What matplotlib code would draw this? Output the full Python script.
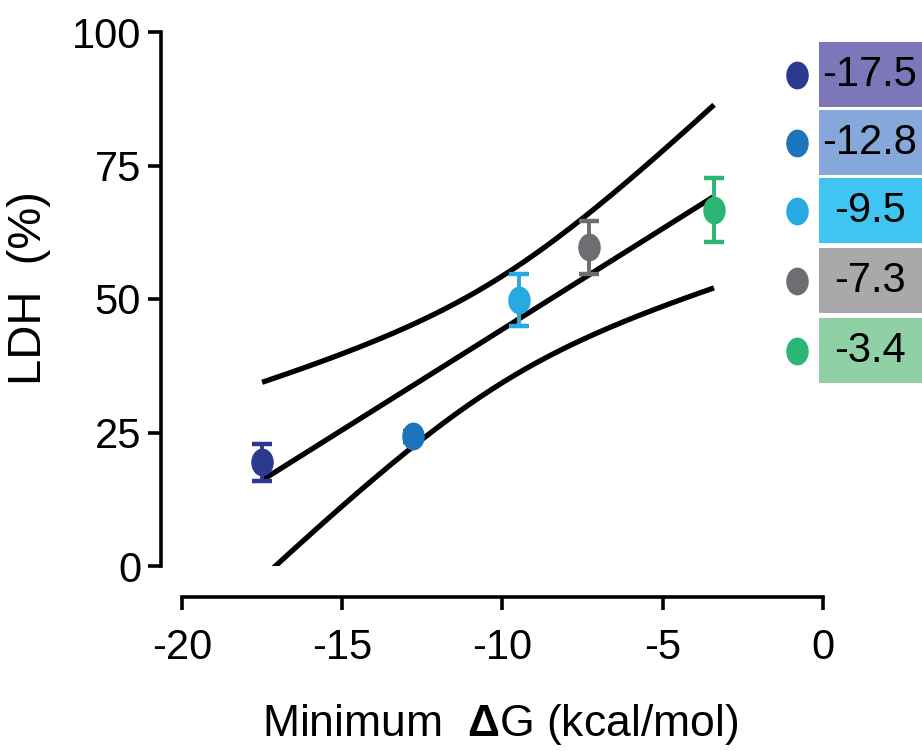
import numpy as np
import matplotlib
matplotlib.use("Agg")
import matplotlib.pyplot as plt
from matplotlib.path import Path
from matplotlib.transforms import Affine2D

plt.rcParams['font.family'] = ['Liberation Sans', 'DejaVu Sans']
plt.rcParams['axes.unicode_minus'] = False
plt.rcParams['mathtext.fontset'] = 'custom'
plt.rcParams['mathtext.bf'] = 'Liberation Sans:bold'
plt.rcParams['mathtext.rm'] = 'Liberation Sans'

# data
dg = np.array([-17.5, -12.8, -9.5, -7.3, -3.4])
ldh = np.array([19.4, 24.3, 49.8, 59.7, 66.6])
ldh_err = np.array([3.4, 1.0, 4.8, 5.0, 6.0])
point_colors = ['#2b3990', '#1c75bc', '#27aae1', '#6d6e71', '#2bb673']
box_colors = ['#7d77b9', '#86a7d9', '#40c4f2', '#a9a9ab', '#8fd1a5']
legend_labels = ['-17.5', '-12.8', '-9.5', '-7.3', '-3.4']

# linear fit with 95% confidence band
slope, intercept = np.polyfit(dg, ldh, 1)
n = len(dg)
resid = ldh - (slope * dg + intercept)
s = np.sqrt(np.sum(resid ** 2) / (n - 2))
t_crit = 3.182  # t(0.975, df=3)
xf = np.linspace(dg.min(), dg.max(), 200)
yf = slope * xf + intercept
se = s * np.sqrt(1.0 / n + (xf - dg.mean()) ** 2 / np.sum((dg - dg.mean()) ** 2))
upper = yf + t_crit * se
lower = yf - t_crit * se

# slightly tall ellipse marker
ellipse = Path.unit_circle().transformed(Affine2D().scale(0.8, 1.0))

fig = plt.figure(figsize=(9.22, 7.51), dpi=100)
ax = fig.add_axes([182 / 922, 1 - 566 / 751, 641 / 922, 534 / 751])

ax.plot(xf, yf, color='black', lw=3.8, solid_capstyle='butt', zorder=2)
ax.plot(xf, upper, color='black', lw=3.8, solid_capstyle='butt', zorder=2)
ax.plot(xf, lower, color='black', lw=3.8, solid_capstyle='butt', zorder=2)

for x, y, e, c in zip(dg, ldh, ldh_err, point_colors):
    ax.errorbar(x, y, yerr=e, fmt='none', ecolor=c, elinewidth=2.8,
                capsize=7.5, capthick=3.2, zorder=3)
    ax.plot(x, y, marker=ellipse, markersize=19, color=c, ls='none', zorder=4)

ax.set_xlim(-20, 0)
ax.set_ylim(0, 100)
ax.set_xticks([-20, -15, -10, -5, 0])
ax.set_yticks([0, 25, 50, 75, 100])

for side in ['top', 'right']:
    ax.spines[side].set_visible(False)
ax.spines['left'].set_position(('outward', 15))
ax.spines['bottom'].set_position(('outward', 22))
for side in ['left', 'bottom']:
    ax.spines[side].set_linewidth(2.6)
ax.tick_params(axis='both', width=2.6, length=9.5, labelsize=30)
ax.tick_params(axis='y', pad=5)
ax.tick_params(axis='x', pad=13)

ax.set_ylabel('LDH  (%)', fontsize=34)
ax.yaxis.set_label_coords(-0.205, 0.52)
ax.set_xlabel(r'Minimum  $\mathbf{\Delta}$G (kcal/mol)', fontsize=32)
ax.xaxis.set_label_coords(0.496, -0.255)

# colour key on the right
key = fig.add_axes([0, 0, 1, 1])
key.set_xlim(0, 922)
key.set_ylim(751, 0)
key.axis('off')
box_tops = [42, 110, 178, 248, 318]
for top, c, bc, lab in zip(box_tops, point_colors, box_colors, legend_labels):
    key.add_patch(plt.Rectangle((819, top), 103, 65, color=bc, lw=0))
    key.text(870, top + 33, lab, fontsize=30, ha='center', va='center')
    key.plot(797, top + 33, marker=ellipse, markersize=19, color=c, ls='none')

fig.savefig('out.png', dpi=100)
